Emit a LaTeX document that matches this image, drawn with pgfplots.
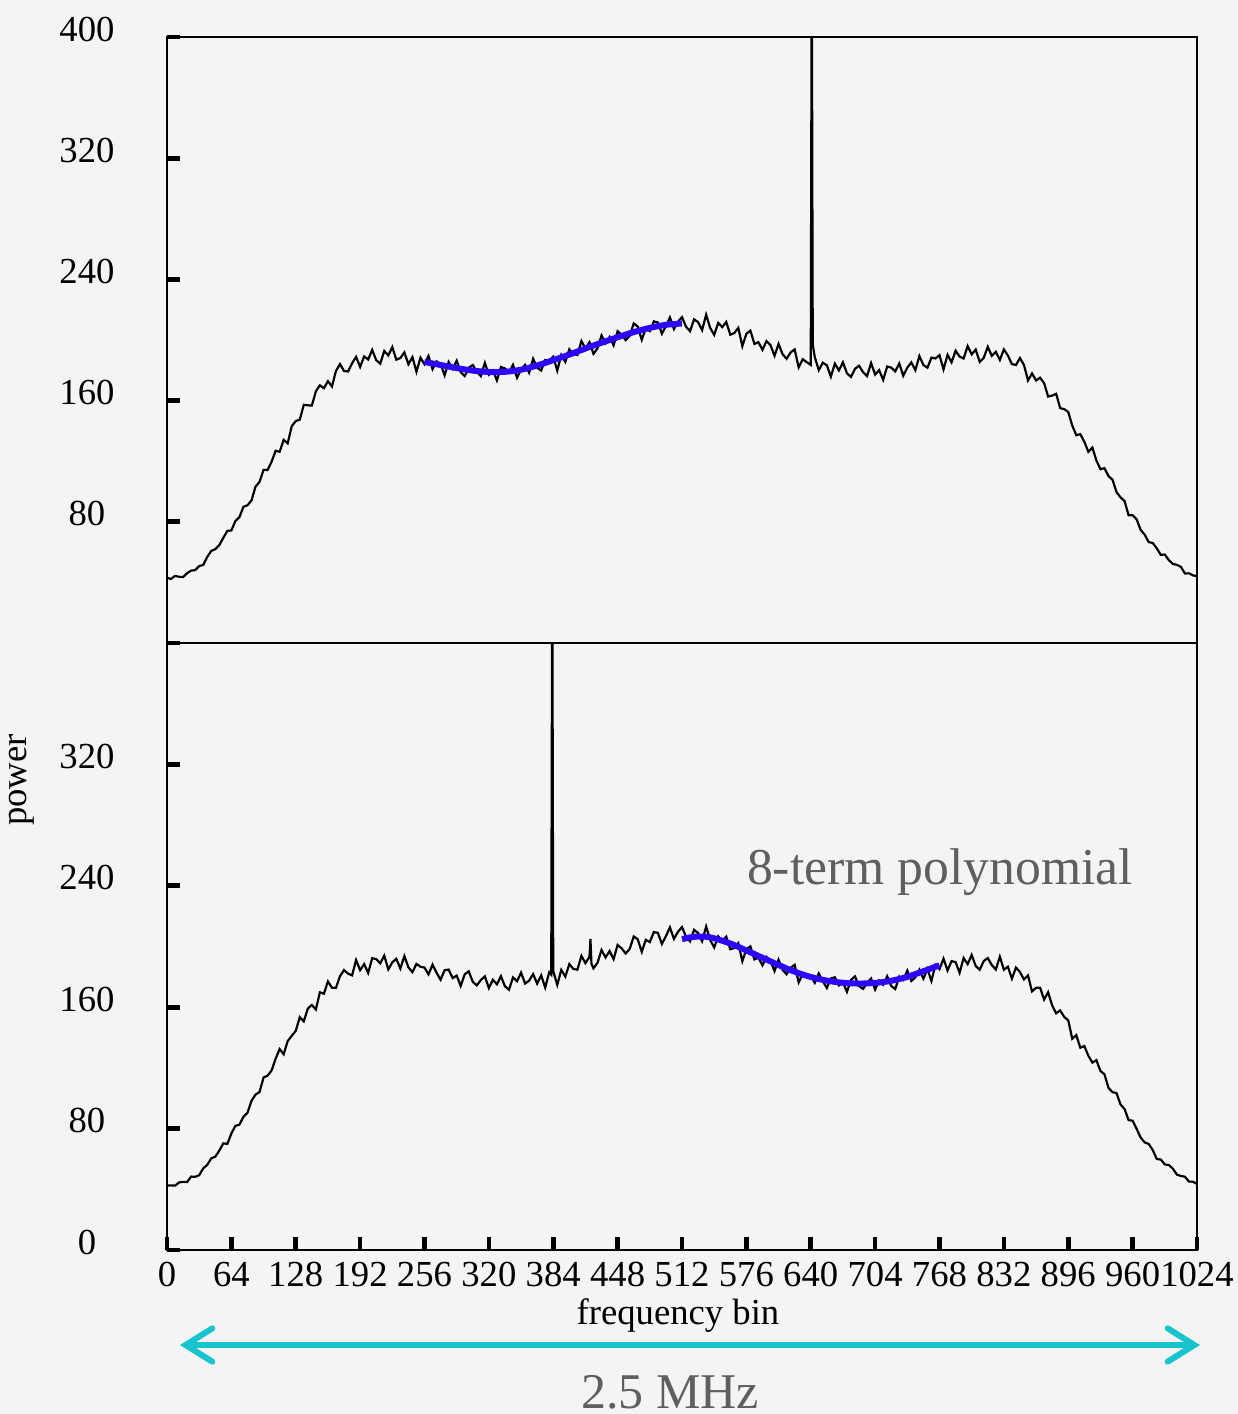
\documentclass[border=0pt]{standalone}
\usepackage{fontspec}
\setmainfont{Liberation Serif}
\usepackage{pgfplots}
\pgfplotsset{compat=1.18}
\usetikzlibrary{arrows.meta}

\definecolor{bgcol}{RGB}{244,244,244}
\definecolor{fitblue}{RGB}{45,5,250}
\definecolor{arrowteal}{RGB}{25,195,205}
\definecolor{notegray}{RGB}{95,95,95}

\pgfplotsset{
  panel/.style={
    scale only axis, width=309pt,
    xmin=0, xmax=1024, ymin=0, ymax=400,
    axis line style={line width=0.7pt},
    tick align=inside, major tick length=3.9pt,
    major tick style={line width=1.4pt, black},
    ytick pos=left,
    yticklabel style={anchor=center, xshift=-24pt, yshift=2.4pt},
    ticklabel style={font=\fontsize{11}{12}\selectfont},
    /pgf/number format/assume math mode=true,
    /pgf/number format/1000 sep={},
  },
  sig/.style={black, line width=0.65pt, no markers},
  fit/.style={fitblue, line width=1.8pt, no markers, smooth},
}

\begin{document}
\begin{tikzpicture}
\path[use as bounding box, fill=bgcol] (-50.1pt,-49.2pt) rectangle (321.3pt,375pt);

% upper panel
\begin{axis}[panel, anchor=south west, at={(0,182.1pt)}, height=181.8pt,
  xtick=\empty, ytick={80,160,240,320,400}]
\addplot[sig] coordinates {
(0,43.0)(4,42.3)(8,44.3)(12,43.7)(16,43.5)(20,46.1)(24,47.8)(28,48.1)(32,50.8)(36,51.5)(40,56.8)(44,60.8)(48,61.9)(52,64.6)(56,69.4)(60,74.0)(64,74.3)(68,80.5)(72,83.1)(76,89.9)(80,90.9)(84,94.1)(88,103.2)(92,106.4)(96,114.3)(100,114.2)(104,119.7)(108,126.9)(112,126.2)(116,134.1)(120,131.8)(124,143.1)
(128,146.5)(132,147.4)(136,157.2)(140,156.9)(144,156.7)(148,166.1)(152,170.1)(156,168.2)(160,172.8)(164,169.3)(168,179.6)(172,184.1)(176,179.5)(180,179.2)(184,184.6)(188,188.9)(192,182.2)(196,189.2)(200,187.1)(204,193.5)(208,186.7)(212,184.4)(216,192.8)(220,189.8)(224,195.3)(228,187.0)(232,188.1)(236,191.8)(240,184.0)(244,188.7)(248,179.0)(252,188.3)
(256,184.0)(260,189.4)(264,180.8)(268,185.9)(272,184.2)(276,176.7)(280,185.5)(284,180.9)(288,186.3)(292,178.8)(296,176.2)(300,181.7)(304,183.5)(308,179.1)(312,176.2)(316,184.9)(320,177.1)(324,179.9)(328,173.3)(332,182.2)(336,181.2)(340,178.5)(344,183.6)(348,175.1)(352,180.4)(356,183.6)(360,178.4)(364,187.6)(368,181.7)(372,179.9)(376,186.8)(380,186.5)
(384,189.0)(388,179.8)(392,190.1)(396,185.6)(400,193.9)(404,190.6)(408,190.1)(412,199.3)(416,194.4)(420,198.5)(424,190.9)(428,194.5)(432,203.0)(436,197.9)(440,202.0)(444,196.5)(448,205.8)(452,203.5)(456,199.9)(460,202.8)(464,210.9)(468,208.9)(472,200.1)(476,207.8)(480,205.9)(484,212.3)(488,211.6)(492,204.2)(496,209.2)(500,214.9)(504,207.2)(508,212.1)
(512,215.1)(516,208.8)(520,205.8)(524,213.6)(528,211.8)(532,206.5)(536,216.7)(540,208.0)(544,203.4)(548,211.3)(552,208.5)(556,211.9)(560,203.5)(564,204.6)(568,208.0)(572,195.9)(576,204.1)(580,206.2)(584,197.4)(588,198.6)(592,193.5)(596,199.3)(600,196.6)(604,189.6)(608,197.4)(612,190.6)(616,187.6)(620,191.8)(624,193.8)(628,181.9)(632,187.3)(636,185.4)
(640,183.6)(641,460)(642,197)(644,188.8)(648,180.1)(652,185.0)(656,183.3)(660,175.8)(664,184.4)(668,179.9)(672,185.3)(676,178.0)(680,175.6)(684,181.0)(688,183.0)(692,178.8)(696,176.2)(700,184.8)(704,177.2)(708,180.1)(712,173.7)(716,182.5)(720,181.8)(724,179.3)(728,184.5)(732,176.4)(736,181.8)(740,185.2)(744,180.1)(748,189.4)(752,183.5)(756,181.7)(760,188.4)(764,187.8)
(768,190.0)(772,180.6)(776,190.2)(780,185.3)(784,192.9)(788,189.0)(792,187.8)(796,196.0)(800,190.5)(804,193.7)(808,185.5)(812,188.2)(816,195.5)(820,189.6)(824,192.2)(828,186.8)(832,193.8)(836,189.8)(840,184.1)(844,183.5)(848,188.1)(852,183.5)(856,173.3)(860,177.9)(864,173.3)(868,175.1)(872,171.5)(876,162.7)(880,163.3)(884,164.5)(888,155.0)(892,154.4)
(896,152.5)(900,143.5)(904,137.1)(908,137.9)(912,132.8)(916,126.2)(920,129.0)(924,120.5)(928,114.7)(932,115.4)(936,110.2)(940,107.8)(944,99.6)(948,96.1)(952,93.7)(956,84.3)(960,84.3)(964,81.6)(968,74.6)(972,71.5)(976,66.6)(980,66.0)(984,62.5)(988,58.2)(992,58.4)(996,54.7)(1000,52.2)(1004,51.6)(1008,50.3)(1012,45.9)(1016,46.0)(1020,44.6)(1024,44.2)
};
\addplot[fit] coordinates {
(256,185.5)(272,183.5)(288,181.5)(304,179.8)(320,178.9)(336,179.0)(352,180.4)(368,183.2)(384,186.7)(400,190.4)(416,194.4)(432,198.2)(448,201.8)(464,205.2)(480,208.0)(496,210.0)(512,210.9)
};
\end{axis}

% lower panel
\begin{axis}[panel, anchor=south west, at={(0,0)}, height=182.1pt,
  xtick={0,64,...,1024}, xtick pos=left,
  ytick={0,80,160,240,320,400}, yticklabels={0,80,160,240,320,{}}]
\addplot[sig] coordinates {
(0,42.4)(4,42.6)(8,42.4)(12,44.5)(16,44.9)(20,44.8)(24,48.4)(28,48.2)(32,49.3)(36,53.8)(40,56.1)(44,60.4)(48,61.5)(52,65.5)(56,70.3)(60,69.9)(64,76.8)(68,81.8)(72,82.6)(76,87.8)(80,90.4)(84,98.3)(88,102.4)(92,104.1)(96,113.7)(100,114.9)(104,118.3)(108,126.1)(112,132.4)(116,129.0)(120,137.7)(124,141.1)
(128,144.4)(132,153.4)(136,150.7)(140,159.1)(144,161.5)(148,158.5)(152,169.8)(156,168.9)(160,177.0)(164,172.8)(168,172.8)(172,180.5)(176,184.5)(180,182.1)(184,181.0)(188,191.1)(192,184.4)(196,188.4)(200,182.6)(204,192.3)(208,191.7)(212,188.9)(216,194.0)(220,184.9)(224,189.6)(228,191.9)(232,185.5)(236,193.7)(240,186.3)(244,183.1)(248,188.5)(252,186.7)
(256,186.1)(260,181.7)(264,188.0)(268,182.7)(272,178.1)(276,184.4)(280,184.8)(284,179.2)(288,180.8)(292,174.0)(296,181.7)(300,183.6)(304,176.7)(308,174.4)(312,177.9)(316,180.3)(320,172.6)(324,178.1)(328,175.1)(332,180.4)(336,173.8)(340,171.5)(344,179.7)(348,177.1)(352,182.8)(356,175.6)(360,177.5)(364,181.8)(368,175.5)(372,181.0)(376,173.0)(380,183.0)
(382,181.5)(383,460)(384,183.8)(388,174.7)(392,184.6)(396,180.2)(400,188.4)(404,185.2)(408,184.7)(412,193.8)(416,189.0)(420,193.1)(421,205)(422,188.5)(424,185.6)(428,189.3)(432,197.7)(436,192.8)(440,197.0)(444,191.7)(448,201.0)(452,198.8)(456,195.4)(460,198.4)(464,206.6)(468,204.8)(472,196.5)(476,204.4)(480,202.9)(484,209.5)(488,209.0)(492,201.7)(496,206.8)(500,212.6)(504,205.0)(508,209.7)
(512,212.8)(516,206.5)(520,203.4)(524,211.0)(528,208.9)(532,203.5)(536,213.2)(540,204.3)(544,199.4)(548,206.7)(552,203.6)(556,206.5)(560,198.2)(564,199.0)(568,202.2)(572,190.3)(576,198.2)(580,200.1)(584,191.5)(588,192.6)(592,187.6)(596,193.2)(600,190.5)(604,183.8)(608,191.3)(612,184.6)(616,181.7)(620,185.9)(624,187.9)(628,176.4)(632,181.8)(636,179.9)
(640,180.7)(644,176.1)(648,182.2)(652,177.1)(656,172.7)(660,179.0)(664,179.7)(668,174.4)(672,176.3)(676,170.1)(680,178.0)(684,180.3)(688,173.9)(692,172.1)(696,176.0)(700,178.9)(704,171.6)(708,177.5)(712,174.8)(716,180.4)(720,174.0)(724,172.0)(728,180.2)(732,178.0)(736,184.1)(740,177.3)(744,179.7)(748,184.7)(752,178.8)(756,185.1)(760,177.3)(764,187.9)
(768,185.1)(772,192.0)(776,184.2)(780,190.4)(784,189.7)(788,182.7)(792,192.4)(796,188.4)(800,194.4)(804,187.1)(808,184.7)(812,190.4)(816,192.4)(820,187.8)(824,184.8)(828,193.3)(832,184.7)(836,186.7)(840,178.8)(844,186.1)(848,183.2)(852,178.3)(856,180.9)(860,170.4)(864,172.8)(868,172.9)(872,165.0)(876,169.9)(880,161.2)(884,156.0)(888,157.9)(892,153.6)
(896,151.3)(900,139.2)(904,141.6)(908,133.3)(912,134.4)(916,128.0)(920,123.5)(924,125.1)(928,118.0)(932,115.8)(936,106.9)(940,104.0)(944,103.4)(948,95.9)(952,92.9)(956,85.6)(960,85.2)(964,79.8)(968,74.1)(972,70.9)(976,69.9)(980,65.9)(984,60.0)(988,59.6)(992,56.4)(996,56.0)(1000,53.6)(1004,49.7)(1008,48.8)(1012,48.3)(1016,45.1)(1020,45.0)(1024,43.5)
};
\addplot[fit] coordinates {
(512,204.8)(520,206.0)(528,206.6)(536,206.4)(544,205.4)(560,202.0)(576,197.4)(592,192.6)(608,187.8)(624,183.4)(640,179.9)(656,177.5)(672,176.1)(688,175.6)(704,176.0)(720,177.4)(736,180.0)(752,183.7)(768,187.6)
};
\end{axis}

% labels and annotations
\node[font=\fontsize{11}{12}\selectfont] at (153.3pt,-19.8pt) {frequency bin};
\node[font=\fontsize{11}{12}\selectfont, rotate=90] at (-43.5pt,141pt) {power};
\node[font=\fontsize{15.5}{18}\selectfont, text=notegray] at (231.9pt,113.4pt) {8-term polynomial};
\draw[arrowteal, line width=1.8pt, line cap=round,
  {Straight Barb[length=8pt, width=10pt, line cap=round]}-{Straight Barb[length=8pt, width=10pt, line cap=round]}]
  (3.9pt,-28.5pt) -- (309.9pt,-28.5pt);
\node[font=\fontsize{15}{17}\selectfont, text=notegray] at (150.9pt,-42.6pt) {2.5 MHz};
\end{tikzpicture}
\end{document}
